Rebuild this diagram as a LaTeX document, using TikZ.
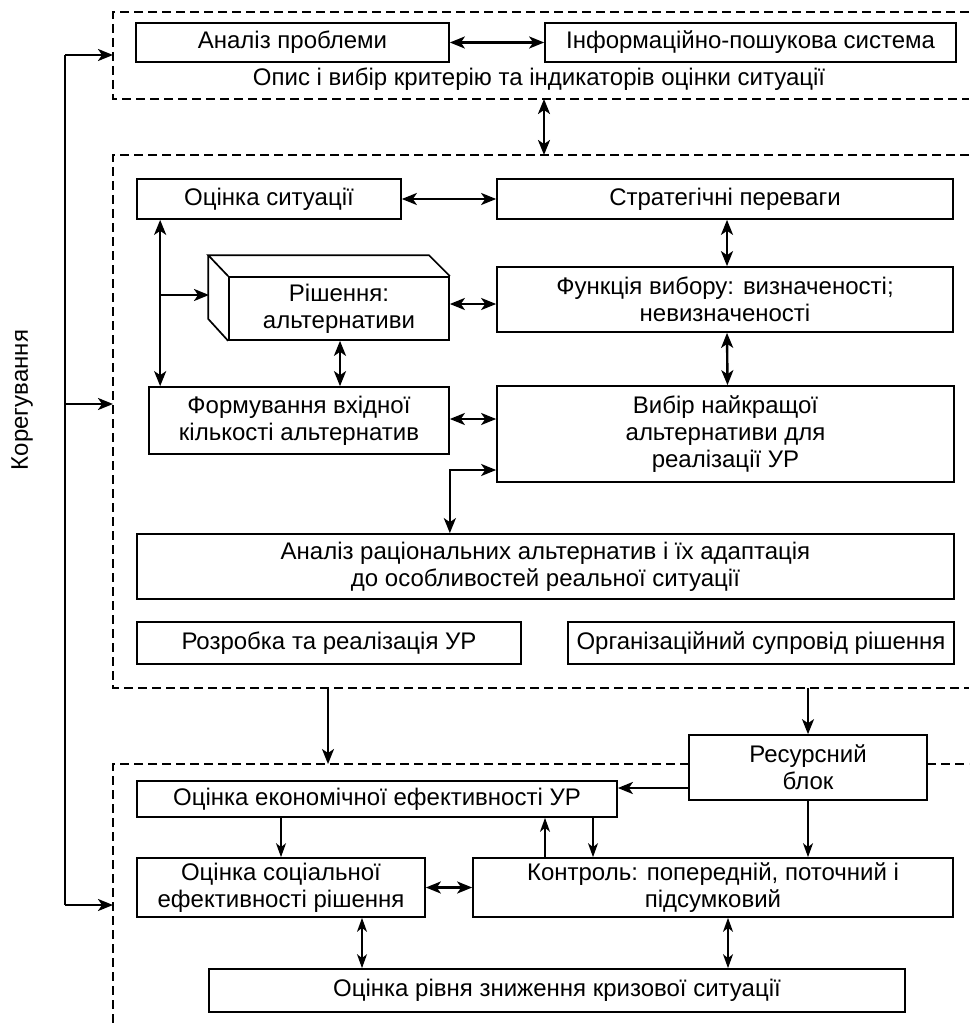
\documentclass[tikz,border=0pt]{standalone}
\usepackage{fontspec}
\setmainfont{Liberation Sans}
\usetikzlibrary{arrows.meta,calc}
\begin{document}
\begin{tikzpicture}[x=1pt,y=-1pt,
  txt/.style={font=\fontsize{24}{26.7}\selectfont, align=center},
  box/.style={txt, draw, line width=1.7pt, inner sep=1pt},
  frame/.style={line width=1.1pt, dash pattern=on 9pt off 5pt},
  tip/.tip={Stealth[length=15pt,width=12pt,inset=4pt]},
  stip/.tip={Stealth[length=14pt,width=10pt,inset=4pt]},
  arr/.style={line width=2.4pt, -tip},
  darr/.style={line width=2.4pt, tip-tip},
  tarr/.style={line width=1.6pt, -stip},
  tdarr/.style={line width=1.6pt, stip-stip}]
\useasboundingbox (0,0) rectangle (969,1027);

% frames
\draw[frame] (969,12) -- (113,12) -- (113,99) -- (969,99);
\draw[frame] (969,155) -- (113,155) -- (113,688) -- (969,688);
\draw[frame] (689,764) -- (113,764) -- (113,1027);
\draw[frame] (927,764) -- (969,764);

% top section
\node[box, minimum width=313pt, minimum height=39pt] (prob) at (292.5,42.5) {Аналіз проблеми};
\node[box, minimum width=411pt, minimum height=39pt] (info) at (750.5,42.5) {Інформаційно-пошукова система};
\node[txt] (opys) at (539,79) {Опис і вибір критерію та індикаторів оцінки ситуації};

% middle section
\node[box, minimum width=264pt, minimum height=40pt] (situ) at (269,199) {Оцінка ситуації};
\node[box, minimum width=456pt, minimum height=40pt] (strat) at (725,199) {Стратегічні переваги};
\node[box, minimum width=456pt, minimum height=65pt] (func) at (725,299.5) {Функція вибору: визначеності;\\невизначеності};
\node[box, minimum width=220pt, minimum height=63pt] (cube) at (339,308.5) {Рішення:\\альтернативи};
\draw[line width=1.7pt, line join=miter] (cube.north west) -- ++(-20,-21) -- ([xshift=-21pt,yshift=21pt]cube.north east) -- (cube.north east);
\draw[line width=1.7pt, line join=miter] ([xshift=-20pt,yshift=21pt]cube.north west) -- ([xshift=-20pt,yshift=22pt]cube.south west) -- (cube.south west);
\node[box, minimum width=300pt, minimum height=67pt] (form) at (299,420.5) {Формування вхідної\\кількості альтернатив};
\node[box, minimum width=457pt, minimum height=96pt] (best) at (725.5,434) {Вибір найкращої\\альтернативи для\\реалізації УР};
\node[box, minimum width=817pt, minimum height=65pt] (anal) at (545.5,566.5) {Аналіз раціональних альтернатив і їх адаптація\\до особливостей реальної ситуації};
\node[box, minimum width=384pt, minimum height=42pt] (rozr) at (329,643) {Розробка та реалізація УР};
\node[box, minimum width=386pt, minimum height=42pt] (org) at (761,643) {Організаційний супровід рішення};

% bottom section
\node[box, minimum width=238pt, minimum height=65pt, fill=white] (res) at (808,767.5) {Ресурсний\\блок};
\node[box, minimum width=480pt, minimum height=36pt] (econ) at (377,799) {Оцінка економічної ефективності УР};
\node[box, minimum width=288pt, minimum height=59pt] (soc) at (281,887.5) {Оцінка соціальної\\ефективності рішення};
\node[box, minimum width=480pt, minimum height=59pt] (ctrl) at (713,887.5) {Контроль: попередній, поточний і\\підсумковий};
\node[box, minimum width=696pt, minimum height=43pt] (level) at (557,990.5) {Оцінка рівня зниження кризової ситуації};

\node[txt, rotate=90] (kor) at (22,400) {Корегування};

% coordinates
\coordinate (topb) at (544,99);
\coordinate (midt) at (544,155);
\coordinate (midb1) at (328,688);
\coordinate (botf) at (328,764);
\coordinate (midb2) at (808,688);
\coordinate (cubeleft) at (209,295);
\coordinate (vl) at ([xshift=24pt]situ.south west);
\coordinate (fbtop) at (65,55);
\coordinate (fbmid) at (65,404);
\coordinate (fbbot) at (65,905);
\coordinate (ftop) at (113,55);
\coordinate (fmid) at (113,404);
\coordinate (fbotf) at (113,905);

% connectors
\draw[darr] (prob.east) -- (info.west);
\draw[darr] (topb) -- (midt);
\draw[darr] (situ.east) -- (strat.west);
\draw[darr] ([xshift=2pt]strat.south) -- ([xshift=2pt]func.north);
\draw[darr] ([xshift=2pt]func.south) -- ([xshift=2pt]best.north);
\draw[darr] ([yshift=4.5pt]cube.east) -- ([yshift=4.5pt]cube.east -| func.west);
\draw[darr] (vl) -- (vl |- form.north);
\draw[arr] (cubeleft -| vl) -- (cubeleft);
\draw[darr] ([xshift=1pt]cube.south) -- ([xshift=1pt]cube.south |- form.north);
\draw[darr] ([yshift=1.5pt]form.east) -- ([yshift=1.5pt]form.east -| best.west);
\draw[darr] (anal.north -| form.east) |- ([yshift=-36pt]best.west);
\draw[arr, line width=1.8pt] (midb1) -- (botf);
\draw[arr, line width=1.8pt] (midb2) -- (res.north);

\draw[arr, line width=2.8pt] ([yshift=-20.5pt]res.west) -- ([yshift=-20.5pt]res.west -| econ.east);
\draw[tarr] (soc.north |- econ.south) -- (soc.north);
\draw[tarr] ([xshift=-168pt]ctrl.north) -- ([xshift=-168pt]ctrl.north |- econ.south);
\draw[tarr] ([xshift=-120pt]ctrl.north |- econ.south) -- ([xshift=-120pt]ctrl.north);
\draw[tarr] (res.south) -- (res.south |- ctrl.north);
\draw[darr] (soc.east) -- (ctrl.west);
\draw[tdarr] ([xshift=81pt]soc.south) -- ([xshift=81pt]soc.south |- level.north);
\draw[tdarr] ([xshift=15pt]ctrl.south) -- ([xshift=15pt]ctrl.south |- level.north);

% feedback
\draw[line width=1.6pt] (fbtop) -- (fbbot);
\draw[arr] (fbtop) -- (ftop);
\draw[arr] (fbmid) -- (fmid);
\draw[arr] (fbbot) -- (fbotf);
\end{tikzpicture}
\end{document}
